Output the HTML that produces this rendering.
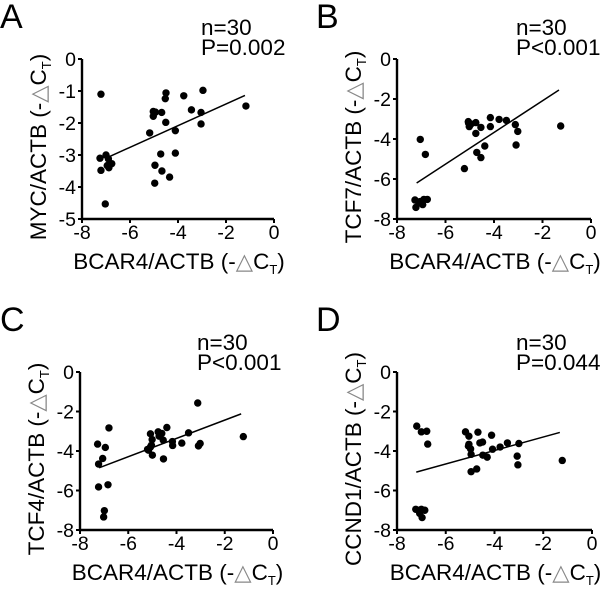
<!DOCTYPE html>
<html><head><meta charset="utf-8"><style>
html,body{margin:0;padding:0;background:#fff;}
svg{display:block;font-family:"Liberation Sans",Arial,sans-serif;}
</style></head><body>
<svg id="fig" width="600" height="603" viewBox="0 0 600 603" xmlns="http://www.w3.org/2000/svg"></svg>
<script>
const xTicks=[-8,-6,-4,-2,0];
const xTickLabels=["-8","-6","-4","-2","0"];
const aX=[-7.21,-7.25,-7.21,-7.0,-6.9,-6.95,-6.88,-6.76,-7.03,-5.03,-5.03,-4.94,-4.68,-4.5,-4.53,-4.51,-5.18,-4.11,-3.76,-2.96,-3.44,-3.04,-3.04,-1.17,-4.72,-4.11,-4.96,-4.67,-4.35,-4.97];
const aY=[-1.1,-3.1,-3.48,-3.0,-3.12,-3.33,-3.4,-3.27,-4.53,-1.64,-1.79,-1.66,-1.67,-1.06,-1.24,-1.98,-2.31,-2.24,-1.15,-0.98,-1.59,-1.67,-2.03,-1.47,-2.97,-2.94,-3.32,-3.5,-3.69,-3.88];
const aLine=[-6.83,-3.04,-1.21,-1.14];
const aYTicks=[0,-1,-2,-3,-4,-5];
const bX=[-7.22,-7.26,-7.05,-6.94,-6.89,-6.75,-7.04,-6.83,-5.22,-5.06,-4.99,-5.02,-4.75,-4.75,-4.54,-4.15,-4.15,-3.79,-3.49,-3.12,-3.02,-3.09,-4.38,-4.71,-4.54,-1.25,-5.05,-7.1,-4.95,-6.95];
const bY=[-7.42,-7.05,-7.13,-7.28,-7.02,-7.02,-4.02,-4.77,-5.48,-3.13,-3.3,-3.38,-3.18,-3.72,-3.42,-2.93,-3.38,-3.02,-3.07,-3.28,-3.62,-4.3,-4.35,-4.67,-4.93,-3.35,-3.2,-7.2,-3.25,-7.1];
const bLine=[-7.19,-6.2,-1.32,-1.55];
const cX=[-7.27,-7.23,-7.23,-7.06,-6.95,-6.8,-6.84,-6.99,-7.02,-5.08,-5.01,-5.2,-5.08,-5.0,-4.76,-4.61,-4.72,-4.55,-4.4,-4.54,-4.17,-4.16,-3.78,-3.5,-3.12,-3.09,-3.02,-1.23,-5.16,-5.04];
const cY=[-3.65,-4.66,-5.82,-4.38,-3.82,-2.83,-5.71,-7.02,-7.34,-3.13,-3.42,-3.92,-3.8,-4.21,-3.03,-3.11,-3.25,-3.45,-2.81,-4.4,-3.52,-3.72,-3.6,-3.08,-1.57,-3.74,-3.62,-3.27,-3.96,-3.71];
const cLine=[-7.21,-4.85,-1.32,-2.12];
const dX=[-7.19,-7.0,-6.78,-6.74,-7.23,-7.07,-6.97,-6.86,-7.0,-5.19,-5.05,-5.07,-4.98,-4.96,-4.96,-4.73,-4.68,-4.6,-4.49,-4.48,-4.3,-4.12,-4.08,-3.77,-3.47,-3.0,-3.07,-3.04,-1.22,-5.05];
const dY=[-2.74,-3.03,-3.0,-3.65,-6.95,-7.16,-7.37,-7.0,-6.95,-3.03,-3.25,-3.75,-3.89,-4.17,-5.05,-4.91,-3.05,-3.59,-3.55,-4.21,-4.31,-3.2,-3.91,-3.8,-3.59,-3.62,-4.26,-4.7,-4.48,-3.66];
const dLine=[-7.21,-5.07,-1.32,-3.06];
const yTicks8=[0,-2,-4,-6,-8];

const NS="http://www.w3.org/2000/svg";
const svg=document.getElementById('fig');
function mk(tag,attrs,parent){const e=document.createElementNS(NS,tag);for(const k in attrs)e.setAttribute(k,attrs[k]);(parent||svg).appendChild(e);return e;}

function panel(o){
  const g=mk('g',{});
  
  
  const W=o.right-o.left, H=o.bottom-o.top;
  const yMin=o.yTicks[o.yTicks.length-1];
  const sx=v=>o.left+(v+8)/8*W;
  const sy=v=>o.top+(0-v)/(0-yMin)*H;
  const L=mk('text',{x:o.lx,y:o.ly,'font-size':34,fill:'#000'},g);L.textContent=o.letter;
  
  
  const n=mk('text',{x:o.nx,y:o.ny,'font-size':22.5},g);n.textContent='n=30';
  
  
  const p=mk('text',{x:o.nx,y:o.ny+20,'font-size':22.5},g);p.textContent=o.p;
  
  
  const ax=mk('path',{d:`M${o.left} ${o.top}V${o.bottom}H${o.right}`,stroke:'#000','stroke-width':2.4,fill:'none'},g);
  
  
  xTicks.forEach((t,i)=>{
    const x=sx(t);
    mk('line',{x1:x,x2:x,y1:o.bottom,y2:o.bottom+4,stroke:'#000','stroke-width':2},g);
    const tl=mk('text',{x:x,y:o.bottom+20,'font-size':19.5,'text-anchor':'middle'},g);tl.textContent=xTickLabels[i];
    
    
  });
  o.yTicks.forEach(t=>{
    const y=sy(t);
    mk('line',{x1:o.left-4,x2:o.left,y1:y,y2:y,stroke:'#000','stroke-width':2},g);
    const tl=mk('text',{x:o.left-6,y:y+7,'font-size':19.5,'text-anchor':'end'},g);tl.textContent=String(t);
    
    
  });
  const xt=mk('text',{x:(o.left+o.right)/2+1,y:o.bottom+50,'font-size':22.5,'text-anchor':'middle'},g);
  xt.innerHTML='BCAR4/ACTB (-<tspan fill="#888">△</tspan>C<tspan font-size="13" dy="5">T</tspan><tspan dy="-5">)</tspan>';
  
  
  const cy=(o.top+o.bottom)/2+8;
  const yt=mk('text',{x:0,y:0,'font-size':22.5,'text-anchor':'middle',transform:`translate(${o.left-36},${cy}) rotate(-90)`},g);
  yt.innerHTML=o.ylab+' (-<tspan fill="#888">△</tspan>C<tspan font-size="13" dy="5">T</tspan><tspan dy="-5">)</tspan>';
  
  
  const ln=mk('line',{x1:sx(o.line[0]),y1:sy(o.line[1]),x2:sx(o.line[2]),y2:sy(o.line[3]),stroke:'#000','stroke-width':1.5},g);
  
  
  o.xs.forEach((v,i)=>{
    const c=mk('circle',{cx:sx(v),cy:sy(o.ys[i]),r:3.7,fill:'#000'},g);
    
    
  });
}
panel({letter:'A',lx:0,ly:28,nx:201,ny:35,p:'P=0.002',left:82,right:274,top:59,bottom:219,yTicks:aYTicks,ylab:'MYC/ACTB',xs:aX,ys:aY,line:aLine});
panel({letter:'B',lx:316,ly:28,nx:516,ny:35,p:'P<0.001',left:397,right:591,top:59,bottom:219,yTicks:yTicks8,ylab:'TCF7/ACTB',xs:bX,ys:bY,line:bLine});
panel({letter:'C',lx:0,ly:331,nx:197,ny:350,p:'P<0.001',left:80,right:273,top:372,bottom:530,yTicks:yTicks8,ylab:'TCF4/ACTB',xs:cX,ys:cY,line:cLine});
panel({letter:'D',lx:316,ly:331,nx:516,ny:350,p:'P=0.044',left:397,right:592,top:372,bottom:530,yTicks:yTicks8,ylab:'CCND1/ACTB',xs:dX,ys:dY,line:dLine});
</script>
</body></html>
